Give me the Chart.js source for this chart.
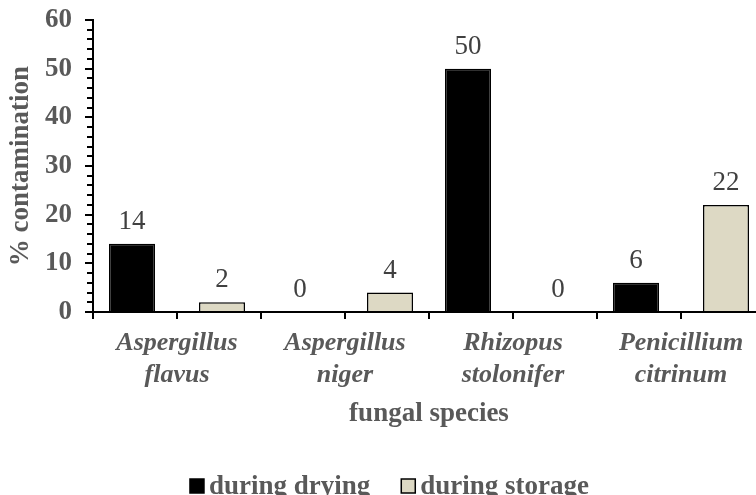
<!DOCTYPE html>
<html>
<head>
<meta charset="utf-8">
<script src="https://cdn.jsdelivr.net/npm/chart.js@4.4.0/dist/chart.umd.min.js"></script>
<style>
  html, body { margin: 0; padding: 0; background: #fff; overflow: hidden; }
  #wrap { width: 756px; height: 495px; overflow: hidden; }
</style>
</head>
<body>
<div id="wrap"><canvas id="c" width="780" height="495"></canvas></div>
<script>
// categories and series
const categories = [
    ['Aspergillus', 'flavus'],
    ['Aspergillus', 'niger'],
    ['Rhizopus', 'stolonifer'],
    ['Penicillium', 'citrinum'],
];
const duringDrying = [14, 0, 50, 6];
const duringStorage = [2, 4, 0, 22];
const seriesNames = ['during drying', 'during storage'];
const yMin = 0, yMax = 60, yStep = 10, yMinorStep = 2;

const SERIF = '"Liberation Serif", "Times New Roman", serif';
const GREY = '#595959';
const FILLS = ['#000000', '#DDD9C4'];

// value labels above each bar
const barLabels = {
    id: 'barLabels',
    afterDatasetsDraw(chart) {
        const ctx = chart.ctx;
        ctx.save();
        ctx.font = '27px ' + SERIF;
        ctx.fillStyle = '#404040';
        ctx.textAlign = 'center';
        ctx.textBaseline = 'alphabetic';
        chart.data.datasets.forEach((ds, i) => {
            chart.getDatasetMeta(i).data.forEach((bar, j) => {
                ctx.fillText(String(ds.data[j]), bar.x, bar.y - 15);
            });
        });
        ctx.restore();
    }
};

// minor ticks on y, half-category ticks on x (Excel-style marks)
const axisMarks = {
    id: 'axisMarks',
    afterDraw(chart) {
        const ctx = chart.ctx;
        const ya = chart.scales.y;
        const area = chart.chartArea;
        ctx.save();
        ctx.strokeStyle = '#000';
        ctx.lineWidth = 2;
        ctx.beginPath();
        for (let v = yMin; v <= yMax; v += yMinorStep) {
            if (v % yStep === 0) continue;
            const y = Math.round(ya.getPixelForValue(v));
            ctx.moveTo(area.left - 6, y);
            ctx.lineTo(area.left, y);
        }
        const half = (area.right - area.left) / (categories.length * 2);
        for (let k = 0; k <= categories.length * 2; k++) {
            const x = Math.round(area.left + k * half);
            ctx.moveTo(x, area.bottom);
            ctx.lineTo(x, area.bottom + 7);
        }
        ctx.stroke();
        ctx.restore();
    }
};

// legend drawn beneath the axis title
const bottomLegend = {
    id: 'bottomLegend',
    afterDraw(chart) {
        const ctx = chart.ctx;
        ctx.save();
        ctx.font = 'bold 27px ' + SERIF;
        ctx.textBaseline = 'middle';
        const box = 14, gap = 5, between = 31, cy = 487;
        const widths = seriesNames.map(n => ctx.measureText(n).width);
        const total = widths.reduce((a, w) => a + box + gap + w, 0) + between;
        let x = 389.5 - total / 2;
        seriesNames.forEach((name, i) => {
            ctx.fillStyle = FILLS[i];
            ctx.fillRect(x, cy - box / 2 - 1, box, box);
            ctx.strokeStyle = '#000';
            ctx.lineWidth = 1.5;
            ctx.strokeRect(x, cy - box / 2 - 1, box, box);
            ctx.fillStyle = GREY;
            ctx.fillText(name, x + box + gap, cy);
            x += box + gap + widths[i] + between;
        });
        ctx.restore();
    }
};

new Chart(document.getElementById('c'), {
    type: 'bar',
    data: {
        labels: categories,
        datasets: [
            { label: seriesNames[0], data: duringDrying, backgroundColor: FILLS[0],
              borderColor: '#000', borderWidth: 1.5 },
            { label: seriesNames[1], data: duringStorage, backgroundColor: FILLS[1],
              borderColor: '#000', borderWidth: 1.5 },
        ]
    },
    options: {
        responsive: false,
        animation: false,
        layout: { padding: { left: 0, top: 20, right: 15, bottom: 0 } },
        datasets: {
            bar: { categoryPercentage: 180 / 168, barPercentage: 46 / 90, borderSkipped: 'bottom' }
        },
        plugins: {
            legend: { display: false },
            tooltip: { enabled: false }
        },
        scales: {
            x: {
                grid: { display: false },
                border: { display: true, color: '#000', width: 2 },
                ticks: {
                    color: GREY,
                    padding: 7,
                    maxRotation: 0,
                    autoSkip: false,
                    font: { family: SERIF, size: 26, weight: 'bold', style: 'italic', lineHeight: 1.23 }
                },
                title: {
                    display: true,
                    text: 'fungal species',
                    color: GREY,
                    font: { family: SERIF, size: 27, weight: 'bold', lineHeight: 1.2 },
                    padding: { top: 0, bottom: 65 }
                },
                afterFit(scale) {
                    scale.height = 183;
                    scale.paddingLeft = 0;
                    scale.paddingRight = 0;
                }
            },
            y: {
                min: yMin,
                max: yMax,
                grid: { drawOnChartArea: false, drawTicks: true, tickLength: 8, color: '#000', lineWidth: 2 },
                border: { display: true, color: '#000', width: 2 },
                ticks: {
                    stepSize: yStep,
                    color: GREY,
                    padding: 13,
                    font: { family: SERIF, size: 27, weight: 'bold' }
                },
                title: {
                    display: true,
                    text: '% contamination',
                    color: GREY,
                    font: { family: SERIF, size: 27, weight: 'bold', lineHeight: 1.2 },
                    padding: { top: 5, bottom: 0 }
                },
                afterFit(scale) {
                    scale.width = 93;
                    scale.paddingTop = 0;
                    scale.paddingBottom = 0;
                }
            }
        }
    },
    plugins: [barLabels, axisMarks, bottomLegend]
});
</script>
</body>
</html>
